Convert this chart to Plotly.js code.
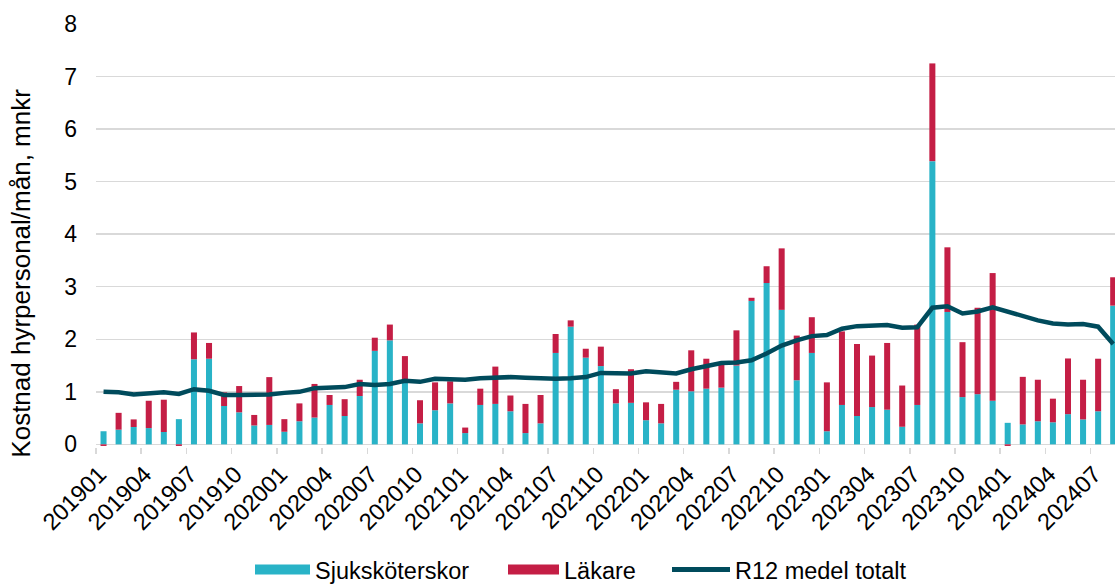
<!DOCTYPE html>
<html><head><meta charset="utf-8">
<script src="https://cdn.plot.ly/plotly-3.0.1.min.js"></script>
<style>html,body{margin:0;padding:0;background:#fff;overflow:hidden}#chart{width:1115px;height:585px}</style>
</head><body><div id="chart"></div>
<script>
const months = ['201901','201902','201903','201904','201905','201906','201907','201908','201909','201910','201911','201912',
'202001','202002','202003','202004','202005','202006','202007','202008','202009','202010','202011','202012',
'202101','202102','202103','202104','202105','202106','202107','202108','202109','202110','202111','202112',
'202201','202202','202203','202204','202205','202206','202207','202208','202209','202210','202211','202212',
'202301','202302','202303','202304','202305','202306','202307','202308','202309','202310','202311','202312',
'202401','202402','202403','202404','202405','202406','202407','202408'];

const sjukskoterskor = [0.25,0.28,0.33,0.31,0.235,0.48,1.62,1.63,0.73,0.61,0.36,0.37,
0.24,0.44,0.51,0.75,0.54,0.92,1.78,1.98,1.20,0.40,0.65,0.78,
0.215,0.75,0.77,0.63,0.215,0.40,1.74,2.24,1.65,1.49,0.78,0.79,
0.46,0.40,1.04,1.01,1.06,1.08,1.50,2.73,3.07,2.56,1.22,1.74,
0.25,0.75,0.54,0.71,0.66,0.335,0.75,5.39,2.52,0.90,0.955,0.83,
0.41,0.38,0.44,0.42,0.575,0.475,0.63,2.64];

const lakare = [-0.03,0.32,0.145,0.52,0.615,-0.03,0.51,0.30,0.26,0.50,0.20,0.91,
0.24,0.34,0.64,0.19,0.32,0.31,0.25,0.30,0.48,0.44,0.53,0.42,
0.105,0.31,0.71,0.30,0.555,0.54,0.36,0.12,0.17,0.37,0.27,0.64,
0.34,0.37,0.15,0.78,0.57,0.47,0.67,0.06,0.32,1.17,0.85,0.68,
0.93,1.40,1.37,0.98,1.27,0.785,1.53,1.86,1.23,1.045,1.645,2.43,
-0.03,0.905,0.79,0.45,1.06,0.755,1.00,0.54];

const r12 = [1.00,0.99,0.95,0.96,0.99,0.96,1.05,1.02,0.94,0.94,0.94,0.95,
0.98,1.00,1.07,1.08,1.09,1.15,1.13,1.15,1.21,1.19,1.25,1.24,
1.23,1.26,1.28,1.28,1.27,1.25,1.25,1.26,1.28,1.36,1.35,1.35,
1.39,1.37,1.35,1.43,1.49,1.55,1.56,1.60,1.73,1.88,1.98,2.06,
2.08,2.20,2.25,2.25,2.27,2.22,2.23,2.60,2.63,2.49,2.53,2.61,
2.52,2.43,2.36,2.30,2.28,2.29,2.24,1.91];

const seriesNames = ['Sjuksköterskor','Läkare','R12 medel totalt'];
const seriesColors = ['#29b3c7','#c41e45','#004b5c'];
const yTitle = 'Kostnad hyrpersonal/mån, mnkr';

const FONT = '"Liberation Sans", Arial, sans-serif';
const traces = [
  {type:'bar', name:seriesNames[0], x:months, y:sjukskoterskor, marker:{color:seriesColors[0]}, showlegend:false},
  {type:'bar', name:seriesNames[1], x:months, y:lakare, marker:{color:seriesColors[1]}, showlegend:false},
  {type:'scatter', mode:'lines', name:seriesNames[2], x:months, y:r12,
   line:{color:seriesColors[2], width:4.5}, showlegend:false},
  // legend-only entries (wide swatches like the original)
  {type:'scatter', mode:'lines', name:seriesNames[0], x:[null], y:[null], line:{color:seriesColors[0], width:12}, legend:'legend'},
  {type:'scatter', mode:'lines', name:seriesNames[1], x:[null], y:[null], line:{color:seriesColors[1], width:12}, legend:'legend2'},
  {type:'scatter', mode:'lines', name:seriesNames[2], x:[null], y:[null], line:{color:seriesColors[2], width:5}, legend:'legend3'}
];

function legendAt(px, w) {
  return {orientation:'h', x:(px - 96) / 1019, xanchor:'left', y:-0.29, yanchor:'middle', itemwidth:w,
          font:{family:FONT, size:23.5, color:'#000000'}, bgcolor:'rgba(0,0,0,0)'};
}

const layout = {
  width:1115, height:585,
  margin:{l:96, r:0, t:24, b:138, autoexpand:false},
  paper_bgcolor:'#ffffff', plot_bgcolor:'#ffffff',
  barmode:'relative', bargap:0.6,
  font:{family:FONT, size:22, color:'#000000'},
  showlegend:true,
  legend:legendAt(250, 55),
  legend2:legendAt(503, 51),
  legend3:legendAt(667, 58),
  xaxis:{type:'category', range:[-0.5, 67.12], tickmode:'linear', tick0:0, dtick:3,
         tickson:'boundaries', ticks:'outside', ticklen:6, tickwidth:1.5, tickcolor:'#d9d9d9',
         tickangle:-45, showgrid:false, showline:false, zeroline:false,
         ticklabelstandoff:8, ticklabelshift:-4,
         tickfont:{family:FONT, size:23.5, color:'#000000'}},
  yaxis:{range:[-0.05, 8], tickmode:'linear', tick0:0, dtick:1, showgrid:true,
         gridcolor:'#d9d9d9', gridwidth:1.5, zeroline:true, zerolinecolor:'#d9d9d9', zerolinewidth:1.5,
         showline:false, ticks:'', ticklabelstandoff:18,
         tickfont:{family:FONT, size:23, color:'#000000'}},
  annotations:[{text:yTitle, xref:'paper', yref:'paper', x:-0.0745, y:0.41, xanchor:'center', yanchor:'middle',
                textangle:-90, showarrow:false, font:{family:FONT, size:26, color:'#000000'}}]
};

Plotly.newPlot('chart', traces, layout, {displayModeBar:false, staticPlot:true});
</script>
</body></html>
